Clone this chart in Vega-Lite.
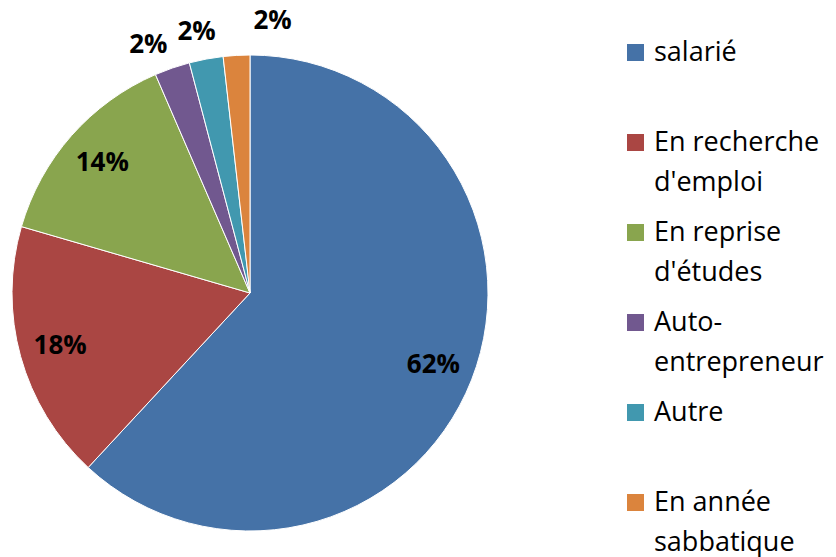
{
  "$schema": "https://vega.github.io/schema/vega-lite/v6.json",
  "width": 500,
  "height": 586,
  "autosize": "none",
  "padding": {"left": 0, "top": 0, "right": 336, "bottom": 0},
  "background": "white",
  "config": {"style": {"guide-label": {"lineHeight": 40}}},
  "data": {
    "values": [
      {"cat": "salarié", "pct": 0.619, "ord": 1},
      {"cat": "En recherche d'emploi", "pct": 0.176, "ord": 2},
      {"cat": "En reprise d'études", "pct": 0.14, "ord": 3},
      {"cat": "Auto-entrepreneur", "pct": 0.024, "ord": 4},
      {"cat": "Autre", "pct": 0.023, "ord": 5},
      {"cat": "En année sabbatique", "pct": 0.018, "ord": 6}
    ]
  },
  "encoding": {
    "theta": {"field": "pct", "type": "quantitative", "stack": true},
    "order": {"field": "ord", "type": "quantitative"}
  },
  "layer": [
    {
      "mark": {"type": "arc", "outerRadius": 238, "stroke": "#ffffff", "strokeWidth": 1},
      "encoding": {
        "color": {
          "field": "cat",
          "type": "nominal",
          "sort": null,
          "scale": {
            "domain": ["salarié", "En recherche d'emploi", "En reprise d'études", "Auto-entrepreneur", "Autre", "En année sabbatique"],
            "range": ["#4572A7", "#AA4643", "#89A54E", "#71588F", "#4198AF", "#DB843D"]
          },
          "legend": {
            "title": null,
            "orient": "none",
            "legendX": 622,
            "legendY": 39,
            "padding": 0,
            "symbolType": "square",
            "symbolSize": 289,
            "symbolStrokeWidth": 0,
            "labelFont": "Open Sans",
            "labelFontSize": 27,
            "labelColor": "#000000",
            "labelBaseline": "middle",
            "labelOffset": 5,
            "labelLimit": 300,
            "rowPadding": 22,
            "labelExpr": "datum.label === \"En recherche d'emploi\" ? ['En recherche', \"d'emploi\"] : datum.label === \"En reprise d'études\" ? ['En reprise', \"d'études\"] : datum.label === 'Auto-entrepreneur' ? ['Auto-', 'entrepreneur'] : datum.label === 'En année sabbatique' ? ['En année', 'sabbatique'] : [datum.label, ' ']"
          }
        }
      }
    },
    {
      "mark": {"type": "text", "radius": 197, "font": "Open Sans", "fontSize": 26, "fontWeight": "bold", "color": "#000000"},
      "encoding": {
        "detail": {"field": "cat"},
        "text": {"condition": {"test": "datum.pct > 0.05", "field": "pct", "format": ".0%"}, "value": ""}
      }
    },
    {
      "mark": {"type": "text", "radius": 268, "dx": -14, "dy": 5, "font": "Open Sans", "fontSize": 26, "fontWeight": "bold", "color": "#000000"},
      "encoding": {
        "detail": {"field": "cat"},
        "text": {"condition": {"test": "datum.ord === 4", "field": "pct", "format": ".0%"}, "value": ""}
      }
    },
    {
      "mark": {"type": "text", "radius": 268, "dx": -4, "dy": 2, "font": "Open Sans", "fontSize": 26, "fontWeight": "bold", "color": "#000000"},
      "encoding": {
        "detail": {"field": "cat"},
        "text": {"condition": {"test": "datum.ord === 5", "field": "pct", "format": ".0%"}, "value": ""}
      }
    },
    {
      "mark": {"type": "text", "radius": 272, "dx": 38, "font": "Open Sans", "fontSize": 26, "fontWeight": "bold", "color": "#000000"},
      "encoding": {
        "detail": {"field": "cat"},
        "text": {"condition": {"test": "datum.ord === 6", "field": "pct", "format": ".0%"}, "value": ""}
      }
    }
  ]
}
